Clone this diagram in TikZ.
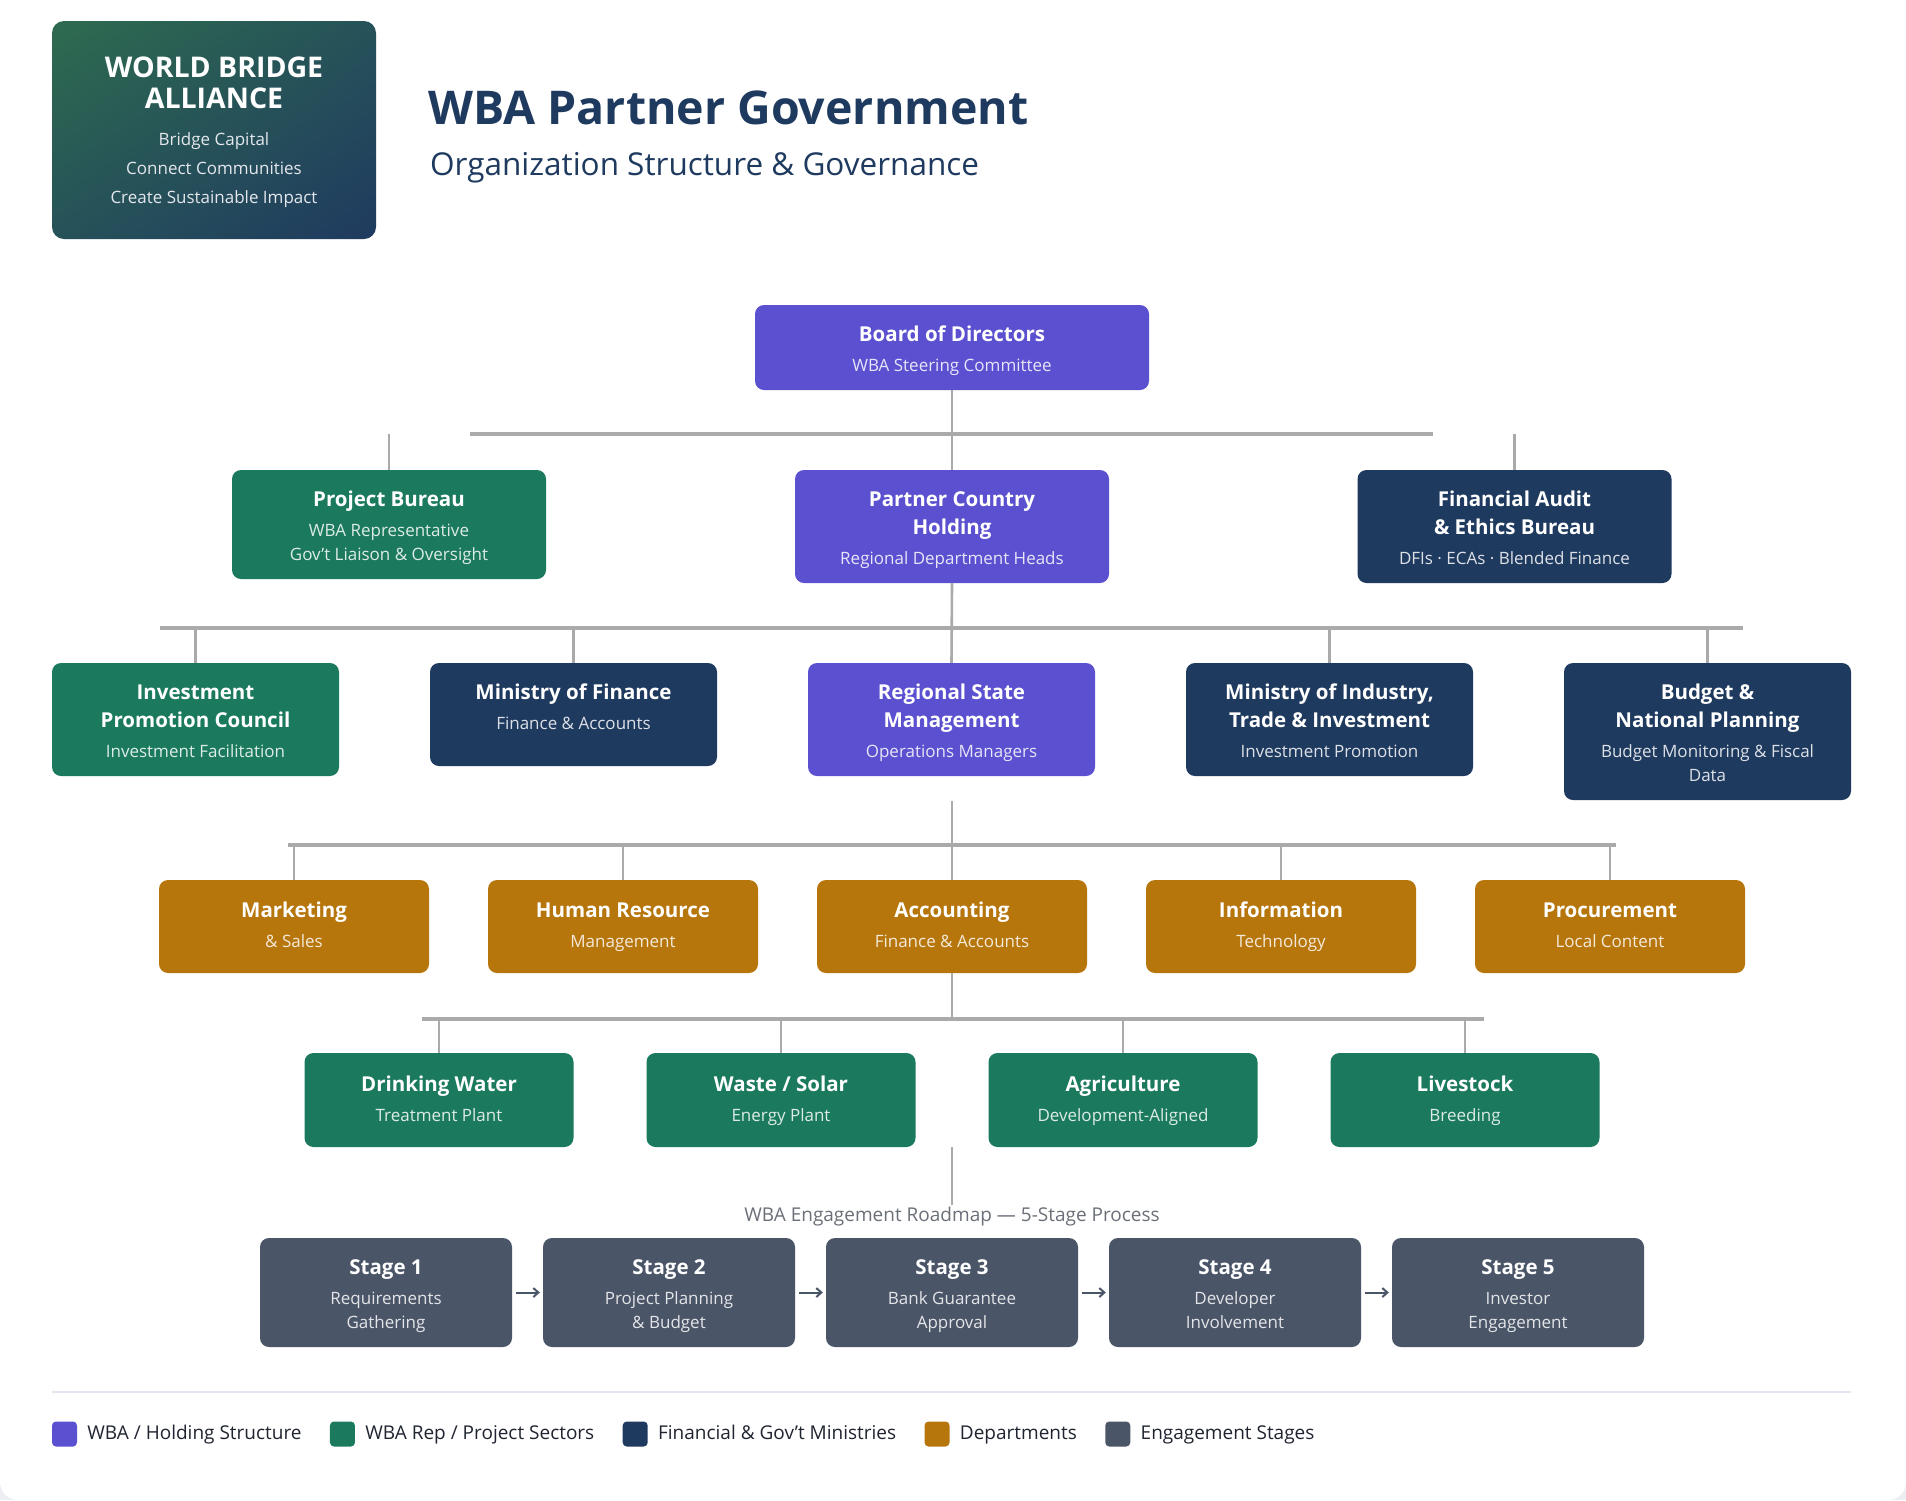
\documentclass[tikz,border=0pt]{standalone}
\usepackage{fontspec}
\setmainfont{Open Sans}
\usetikzlibrary{positioning,arrows.meta,shadings}
\definecolor{cpurple}{HTML}{5B50CF}
\definecolor{cgreen}{HTML}{1B7A5E}
\definecolor{cnavy}{HTML}{1F3A5F}
\definecolor{corange}{HTML}{B7760B}
\definecolor{cslate}{HTML}{4A5568}
\definecolor{cline}{HTML}{AAAAAA}
\definecolor{cbg}{HTML}{EDEDF2}
\definecolor{csep}{HTML}{E2E6EE}
\definecolor{hgreen}{HTML}{2E6B4F}
\definecolor{hmid}{HTML}{265259}
\definecolor{cgraytext}{HTML}{6B6F78}
\definecolor{clegtext}{HTML}{1F2430}
\newcommand{\nt}[3][5.5pt]{\begin{minipage}{240pt}\centering\fontsize{20.5}{28}\selectfont\bfseries\rule{0pt}{23pt}#2\par\vspace{6pt}\fontsize{17}{24}\selectfont\mdseries\color{white!85!\bc}#3\rule[-#1]{0pt}{1pt}\par\end{minipage}}
\tikzset{
  ob/.style={rounded corners=9pt, inner sep=0pt, text=white},
  pur/.style={ob, fill=cpurple, execute at begin node={\def\bc{cpurple}}},
  grn/.style={ob, fill=cgreen, execute at begin node={\def\bc{cgreen}}},
  nav/.style={ob, fill=cnavy, execute at begin node={\def\bc{cnavy}}},
  org/.style={ob, fill=corange, execute at begin node={\def\bc{corange}}},
  stg/.style={ob, fill=cslate, execute at begin node={\def\bc{cslate}}, minimum width=252, minimum height=109},
  vline/.style={draw=cline, line width=2.6pt},
  hbar/.style={draw=cline, line width=3.4pt},
  flow/.style={draw=cslate, line width=2pt, -{Straight Barb[length=5pt,width=9pt]}, shorten <=4pt, shorten >=3pt},
  lsq/.style={fill=#1, rounded corners=4pt, minimum width=25, minimum height=25, inner sep=0pt},
  ltx/.style={inner sep=0pt, text=clegtext, font=\fontsize{19}{22}\selectfont, anchor=west, text height=15pt, text depth=4pt}
}
\begin{document}
\begin{tikzpicture}[x=1pt,y=-1pt]
\useasboundingbox (0,0) rectangle (1906,1500);
\fill[cbg] (0,0) rectangle (1906,1500);
\fill[white, rounded corners=18pt] (0,-40) rectangle (1906,1500);

% header
\node[rounded corners=12pt, inner sep=0pt, minimum width=324, minimum height=218,
  upper left=hgreen, upper right=hmid, lower left=hmid, lower right=cnavy, text=white] (hdr) at (214,130) {};
\node[text=white, align=center, inner sep=0pt, font=\fontsize{28.5}{31}\selectfont\bfseries] (hdrt) at (214,82.5) {WORLD BRIDGE\\ALLIANCE};
\node[text=white!88!cnavy, align=center, inner sep=0pt, font=\fontsize{17}{29}\selectfont] (hdrs) at (214,170.5) {Bridge Capital\\Connect Communities\\Create Sustainable Impact};

\node[anchor=west, inner sep=0pt, text=cnavy, font=\fontsize{46.5}{52}\selectfont\bfseries] (title) at (428,108) {WBA Partner Government};
\node[anchor=west, inner sep=0pt, text=cnavy, font=\fontsize{31.5}{36}\selectfont] (subtitle) at (430,168) {Organization Structure \& Governance};

% row 1
\node[pur, minimum width=394, minimum height=85] (bod) at (952,347.5) {\nt{Board of Directors}{WBA Steering Committee}};
% row 2
\node[grn, minimum width=314, minimum height=109] (pb) at (389,524.5) {\nt{Project Bureau}{WBA Representative\\Gov't Liaison \& Oversight}};
\node[pur, minimum width=314, minimum height=113] (pch) at (952,526.5) {\nt{Partner Country\\Holding}{Regional Department Heads}};
\node[nav, minimum width=314, minimum height=113] (fa) at (1514.5,526.5) {\nt{Financial Audit\\\& Ethics Bureau}{DFIs · ECAs · Blended Finance}};
% row 3
\node[grn, minimum width=287, minimum height=113] (ipc) at (195.5,719.5) {\nt{Investment\\Promotion Council}{Investment Facilitation}};
\node[nav, minimum width=287, minimum height=103] (mof) at (573.5,714.5) {\nt[23.5pt]{Ministry of Finance}{Finance \& Accounts}};
\node[pur, minimum width=287, minimum height=113] (rsm) at (951.5,719.5) {\nt{Regional State\\Management}{Operations Managers}};
\node[nav, minimum width=287, minimum height=113] (miti) at (1329.5,719.5) {\nt{Ministry of Industry,\\Trade \& Investment}{Investment Promotion}};
\node[nav, minimum width=287, minimum height=137] (bnp) at (1707.5,731.5) {\nt{Budget \&\\National Planning}{Budget Monitoring \& Fiscal\\Data}};
% row 4
\node[org, minimum width=270, minimum height=93] (mkt) at (294,926.5) {\nt[10.5pt]{Marketing}{\& Sales}};
\node[org, minimum width=270, minimum height=93] (hr) at (623,926.5) {\nt[10.5pt]{Human Resource}{Management}};
\node[org, minimum width=270, minimum height=93] (acc) at (952,926.5) {\nt[10.5pt]{Accounting}{Finance \& Accounts}};
\node[org, minimum width=270, minimum height=93] (it) at (1281,926.5) {\nt[10.5pt]{Information}{Technology}};
\node[org, minimum width=270, minimum height=93] (proc) at (1610,926.5) {\nt[10.5pt]{Procurement}{Local Content}};
% row 5
\node[grn, minimum width=269, minimum height=94] (dw) at (439,1100) {\nt[10.5pt]{Drinking Water}{Treatment Plant}};
\node[grn, minimum width=269, minimum height=94] (ws) at (781,1100) {\nt[10.5pt]{Waste / Solar}{Energy Plant}};
\node[grn, minimum width=269, minimum height=94] (ag) at (1123,1100) {\nt[10.5pt]{Agriculture}{Development-Aligned}};
\node[grn, minimum width=269, minimum height=94] (ls) at (1465,1100) {\nt[10.5pt]{Livestock}{Breeding}};

% roadmap
\node[inner sep=2pt, text=cgraytext, font=\fontsize{19}{22}\selectfont] (rml) at (952,1217) {WBA Engagement Roadmap — 5-Stage Process};
\node[stg] (s1) at (386,1292.5) {\nt{Stage 1}{Requirements\\Gathering}};
\node[stg] (s2) at (669,1292.5) {\nt{Stage 2}{Project Planning\\\& Budget}};
\node[stg] (s3) at (952,1292.5) {\nt{Stage 3}{Bank Guarantee\\Approval}};
\node[stg] (s4) at (1235,1292.5) {\nt{Stage 4}{Developer\\Involvement}};
\node[stg] (s5) at (1518,1292.5) {\nt{Stage 5}{Investor\\Engagement}};
\foreach \a/\b in {s1/s2,s2/s3,s3/s4,s4/s5} \draw[flow] (\a.east) -- (\b.west);

% connectors
\coordinate (b1L) at (470,434); \coordinate (b1R) at (1433,434);
\coordinate (b2L) at (160,628); \coordinate (b2R) at (1743,628);
\coordinate (b3L) at (288,845); \coordinate (b3R) at (1616,845);
\coordinate (b4L) at (422,1019); \coordinate (b4R) at (1484,1019);
\coordinate (r3b) at (952,801);
\coordinate (r5b) at (952,1147);

\draw[hbar] (b1L) -- (b1R);
\draw[vline] (bod.south) -- (pch.north);
\draw[vline] (pb.north) -- (pb.north |- b1L);
\draw[vline] (fa.north) -- (fa.north |- b1L);

\draw[hbar] (b2L) -- (b2R);
\draw[vline] (pch.south) -- (rsm.north);
\foreach \n in {ipc,mof,miti,bnp} \draw[vline] (\n.north) -- (\n.north |- b2L);

\draw[hbar] (b3L) -- (b3R);
\draw[vline] (r3b) -- (acc.north);
\foreach \n in {mkt,hr,it,proc} \draw[vline] (\n.north) -- (\n.north |- b3L);

\draw[hbar] (b4L) -- (b4R);
\draw[vline] (acc.south) -- (acc.south |- b4L);
\foreach \n in {dw,ws,ag,ls} \draw[vline] (\n.north) -- (\n.north |- b4L);

\draw[vline] (r5b) -- (rml.north);

% legend
\coordinate (sepL) at (52,1392); \coordinate (sepR) at (1851,1392);
\draw[csep, line width=1.5pt] (sepL) -- (sepR);
\node[lsq=cpurple] (l1) at (64.5,1434) {};
\node[ltx, right=10pt of l1] (l1t) {WBA / Holding Structure};
\node[lsq=cgreen, right=28pt of l1t] (l2) {};
\node[ltx, right=10pt of l2] (l2t) {WBA Rep / Project Sectors};
\node[lsq=cnavy, right=28pt of l2t] (l3) {};
\node[ltx, right=10pt of l3] (l3t) {Financial \& Gov't Ministries};
\node[lsq=corange, right=28pt of l3t] (l4) {};
\node[ltx, right=10pt of l4] (l4t) {Departments};
\node[lsq=cslate, right=28pt of l4t] (l5) {};
\node[ltx, right=10pt of l5] (l5t) {Engagement Stages};
\end{tikzpicture}
\end{document}
